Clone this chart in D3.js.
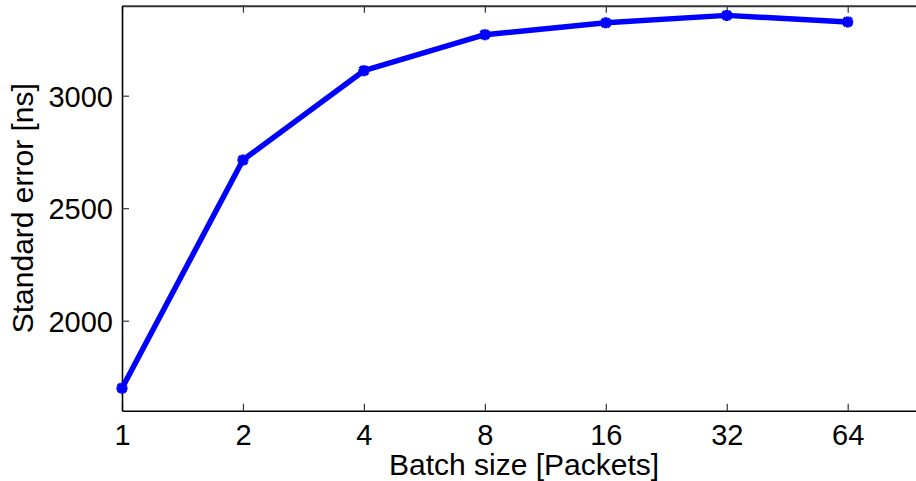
<!DOCTYPE html>
<html>
<head>
<meta charset="utf-8">
<script src="https://cdn.jsdelivr.net/npm/d3@7"></script>
<style>
  body { margin: 0; background: #fff; }
  svg { display: block; }
</style>
</head>
<body>
<svg id="chart" width="916" height="481"></svg>
<script>
// data
const batchSizes = [1, 2, 4, 8, 16, 32, 64];
const stdErrors = [1700, 2714, 3111, 3271, 3324, 3357, 3328];
const yTickValues = [2000, 2500, 3000];

const cfg = {
  left: 122,
  top: 5.7,
  bottom: 410.7,
  perDoubling: 120.95,
  tickLen: 7,
  tickFont: 29,
  labelFont: 30,
  font: "'Liberation Sans', Arial, Helvetica, sans-serif",
  lineColor: "#0000ff",
};

const svg = d3.select("#chart");

// x axis is log2 and runs past the right edge of the picture (cropped)
const x = d3.scaleLog().base(2)
  .domain([1, 128])
  .range([cfg.left, cfg.left + 7 * cfg.perDoubling]);
const y = d3.scaleLinear()
  .domain([1600, 3400])
  .range([cfg.bottom, cfg.top]);

// bottom axis, ticks point inward
const xAxisBottom = svg.append("g")
  .attr("transform", `translate(0,${cfg.bottom})`)
  .call(d3.axisBottom(x).tickValues(batchSizes).tickFormat(d3.format("d"))
    .tickSizeInner(-cfg.tickLen).tickSizeOuter(0).tickPadding(cfg.tickLen + 7));
// top axis with ticks only
const xAxisTop = svg.append("g")
  .attr("transform", `translate(0,${cfg.top})`)
  .call(d3.axisTop(x).tickValues(batchSizes).tickFormat("")
    .tickSizeInner(-cfg.tickLen).tickSizeOuter(0));
// left axis
const yAxis = svg.append("g")
  .attr("transform", `translate(${cfg.left},0)`)
  .call(d3.axisLeft(y).tickValues(yTickValues).tickFormat(d3.format("d"))
    .tickSizeInner(-cfg.tickLen).tickSizeOuter(0).tickPadding(cfg.tickLen + 9));

[xAxisBottom, xAxisTop, yAxis].forEach((g) => {
  g.select(".domain").attr("stroke", "#000").attr("stroke-width", 1.6);
  g.selectAll(".tick line").attr("stroke", "#333").attr("stroke-width", 1.2);
  g.selectAll(".tick text")
    .attr("fill", "#000")
    .attr("font-family", cfg.font)
    .attr("font-size", cfg.tickFont);
});
xAxisTop.select(".domain").attr("stroke", "#333").attr("stroke-width", 2);
xAxisBottom.selectAll(".tick text").attr("dy", "0.71em");
yAxis.selectAll(".tick text").attr("dy", "0.36em").attr("x", -9);

// data line
const line = d3.line()
  .x((d, i) => x(batchSizes[i]))
  .y((d) => y(d));

svg.append("path")
  .datum(stdErrors)
  .attr("d", line)
  .attr("fill", "none")
  .attr("stroke", cfg.lineColor)
  .attr("stroke-width", 5.5)
  .attr("stroke-linejoin", "round");

// asterisk markers
const m = 5.5;
const starPath = `M${-m},0L${m},0M0,${-m}L0,${m}` +
  `M${-m * 0.75},${-m * 0.75}L${m * 0.75},${m * 0.75}` +
  `M${-m * 0.75},${m * 0.75}L${m * 0.75},${-m * 0.75}`;
svg.append("g")
  .selectAll("path")
  .data(stdErrors)
  .join("path")
  .attr("transform", (d, i) => `translate(${x(batchSizes[i])},${y(d)})`)
  .attr("d", starPath)
  .attr("fill", "none")
  .attr("stroke", cfg.lineColor)
  .attr("stroke-width", 3.5);

// axis titles
svg.append("text")
  .attr("x", 524)
  .attr("y", 475)
  .attr("text-anchor", "middle")
  .attr("font-family", cfg.font)
  .attr("font-size", cfg.labelFont)
  .attr("fill", "#000")
  .text("Batch size [Packets]");

svg.append("text")
  .attr("transform", `translate(33,${(cfg.top + cfg.bottom) / 2}) rotate(-90)`)
  .attr("text-anchor", "middle")
  .attr("font-family", cfg.font)
  .attr("font-size", cfg.labelFont)
  .attr("fill", "#000")
  .text("Standard error [ns]");
</script>
</body>
</html>
